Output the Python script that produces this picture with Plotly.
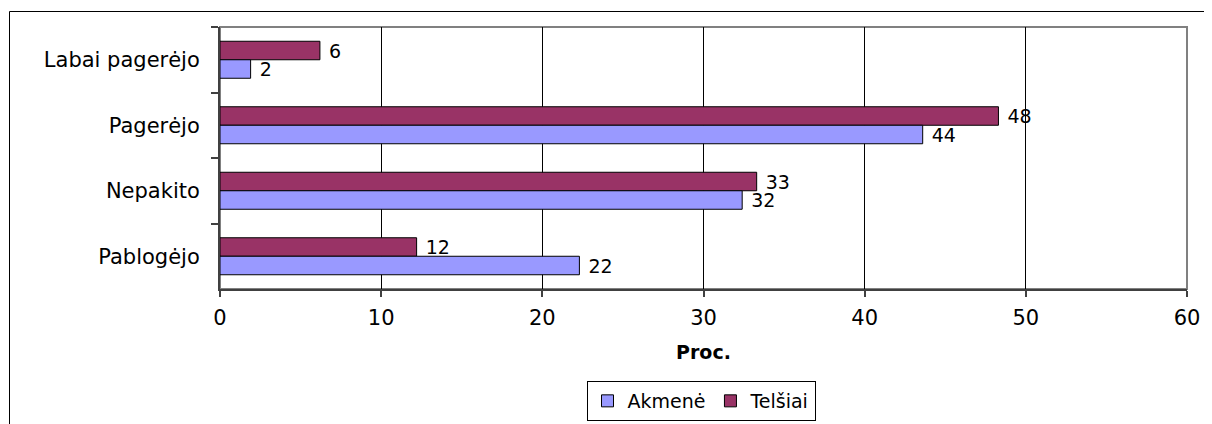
import plotly.graph_objects as go

categories = ["Labai pagerėjo", "Pagerėjo", "Nepakito", "Pablogėjo"]
akmene = [1.9, 43.6, 32.4, 22.3]
akmene_labels = ["2", "44", "32", "22"]
telsiai = [6.2, 48.3, 33.3, 12.2]
telsiai_labels = ["6", "48", "33", "12"]
x_ticks = [0, 10, 20, 30, 40, 50, 60]

FONT = "DejaVu Sans"
FS = 21

# page body has an 8px margin; work in screen pixels and convert
OX, OY = 8, 8
W, H = 1212 - OX, 424 - OY
PL, PR, PT, PB = 220, 1187, 27, 289   # plot area in screen pixels
L, R, T, B = PL - OX, (OX + W) - PR, PT - OY, (OY + H) - PB
pw, ph = PR - PL, PB - PT

def px(x):
    return (x - PL) / pw

def py(y):
    return (PB - y) / ph

fig = go.Figure()
fig.add_trace(go.Bar(
    y=categories, x=telsiai, name="Telšiai", orientation="h",
    marker=dict(color="#993366", line=dict(color="#000000", width=1)),
    text=telsiai_labels, texttemplate=" %{text}", textposition="outside",
    textfont=dict(family=FONT, size=19, color="#000000"),
    constraintext="none", cliponaxis=False,
))
fig.add_trace(go.Bar(
    y=categories, x=akmene, name="Akmenė", orientation="h",
    marker=dict(color="#9999FF", line=dict(color="#000000", width=1)),
    text=akmene_labels, texttemplate=" %{text}", textposition="outside",
    textfont=dict(family=FONT, size=19, color="#000000"),
    constraintext="none", cliponaxis=False,
))

fig.update_layout(
    width=W, height=H,
    margin=dict(l=L, r=R, t=T, b=B, autoexpand=False),
    paper_bgcolor="white", plot_bgcolor="white",
    font=dict(family=FONT, size=FS, color="#000000"),
    barmode="group", bargap=0.435, bargroupgap=0,
    showlegend=True,
    legend=dict(
        orientation="h", traceorder="reversed",
        x=px(701), xanchor="center", y=py(421), yanchor="bottom",
        bordercolor="#000000", borderwidth=1, bgcolor="white",
        font=dict(family=FONT, size=19, color="#000000"),
        itemwidth=30, tracegroupgap=0,
    ),
    xaxis=dict(
        range=[0, 60], tickvals=x_ticks, ticktext=[str(v) for v in x_ticks],
        showgrid=True, gridcolor="#000000", gridwidth=1,
        zeroline=False,
        showline=True, linecolor="#404040", linewidth=2,
        ticks="outside", ticklen=6, tickcolor="#404040", tickwidth=1.5,
        ticklabelstandoff=3,
        title=dict(text="<b>Proc.</b>", standoff=16,
                   font=dict(family=FONT, size=19, color="#000000")),
    ),
    yaxis=dict(
        autorange="reversed", type="category",
        showgrid=False, zeroline=False,
        showline=True, linecolor="#404040", linewidth=2,
        ticks="outside", ticklen=7, tickcolor="#404040", tickwidth=1.5,
        tickson="boundaries", ticklabelstandoff=14,
    ),
    shapes=[
        dict(type="rect", xref="paper", yref="paper", x0=0, x1=1, y0=0, y1=1,
             line=dict(color="#808080", width=2), layer="below"),
        dict(type="rect", xref="paper", yref="paper",
             x0=px(9.5), x1=px(1230), y0=py(440), y1=py(11.5),
             line=dict(color="#000000", width=1), layer="below"),
    ],
)

fig.write_html("out.html")
